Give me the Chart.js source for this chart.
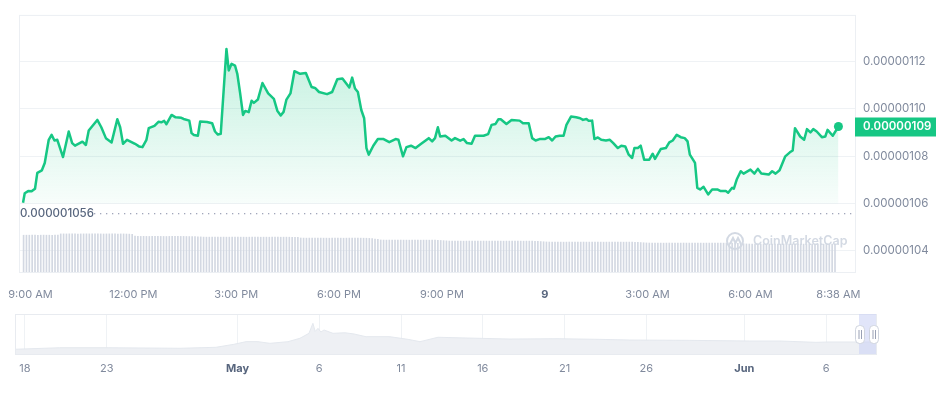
<!DOCTYPE html>
<html lang="en">
<head>
<meta charset="utf-8">
<title>Price chart</title>
<script src="https://cdn.jsdelivr.net/npm/chart.js"></script>
<style>
  body { margin: 0; background: #fff; }
  #main { position: absolute; left: 0; top: 0; }
  #nav { position: absolute; left: 0; top: 300px; }
</style>
</head>
<body>
<canvas id="main" width="942" height="300"></canvas>
<canvas id="nav" width="942" height="95"></canvas>

<script>
// prices are in units of 1e-6 USD, times in minutes from midnight of the first day
var priceTimes = [
  527,530,536,542,548,552,560,565,572,577,
  582,587,597,607,613,618,631,637,642,657,
  664,672,682,692,697,702,709,723,730,736,
  743,747,757,764,769,774,778,787,794,804,
  808,818,822,826,833,837,849,858,863,868,
  873,883,887,892,898,902,907,912,916,922,
  927,931,938,946,956,966,972,978,983,988,
  995,1002,1012,1022,1032,1038,1045,1059,1068,1077,
  1086,1098,1103,1108,1113,1119,1124,1128,1132,1140,
  1148,1158,1168,1179,1184,1192,1198,1206,1214,1222,
  1237,1243,1248,1253,1257,1266,1277,1283,1292,1298,
  1304,1312,1318,1333,1341,1347,1354,1359,1363,1373,
  1382,1396,1402,1412,1418,1424,1431,1440,1447,1453,
  1459,1466,1473,1478,1486,1495,1502,1507,1513,1517,
  1523,1527,1533,1539,1547,1554,1560,1568,1574,1581,
  1587,1593,1597,1603,1608,1614,1623,1629,1633,1643,
  1652,1658,1664,1671,1678,1685,1690,1694,1703,1707,
  1712,1718,1726,1733,1742,1748,1757,1761,1768,1771,
  1776,1783,1788,1800,1807,1813,1819,1832,1838,1844,
  1851,1861,1869,1874,1878,1887,1894,1899,1905,1910,
  1916,1925,1931,1935,1944,1954
];
var priceValues = [
  1.0603,1.0643,1.0652,1.0651,1.0662,1.0729,1.0740,1.0771,1.0869,1.0890,
  1.0866,1.0869,1.0796,1.0904,1.0855,1.0844,1.0861,1.0847,1.0908,1.0953,
  1.0922,1.0876,1.0858,1.0956,1.0922,1.0852,1.0869,1.0852,1.0841,1.0838,
  1.0869,1.0918,1.0928,1.0945,1.0943,1.0949,1.0935,1.0974,1.0964,1.0962,
  1.0957,1.0950,1.0897,1.0889,1.0886,1.0946,1.0944,1.0939,1.0904,1.0891,
  1.0894,1.1253,1.1162,1.1190,1.1183,1.1148,1.1065,1.0974,1.0991,1.0986,
  1.1034,1.1025,1.1039,1.1109,1.1065,1.1042,1.0992,1.0972,1.0987,1.1039,
  1.1065,1.1159,1.1148,1.1151,1.1092,1.1088,1.1071,1.1062,1.1071,1.1125,
  1.1128,1.1090,1.1132,1.1086,1.1071,1.0995,1.0960,1.0834,1.0806,1.0844,
  1.0872,1.0872,1.0859,1.0872,1.0869,1.0799,1.0838,1.0844,1.0834,1.0849,
  1.0876,1.0862,1.0876,1.0922,1.0883,1.0886,1.0866,1.0876,1.0865,1.0872,
  1.0855,1.0852,1.0886,1.0886,1.0893,1.0932,1.0936,1.0956,1.0956,1.0936,
  1.0953,1.0950,1.0939,1.0939,1.0876,1.0866,1.0872,1.0872,1.0880,1.0866,
  1.0883,1.0886,1.0886,1.0932,1.0967,1.0964,1.0960,1.0953,1.0957,1.0949,
  1.0950,1.0872,1.0879,1.0869,1.0866,1.0869,1.0855,1.0834,1.0844,1.0841,
  1.0806,1.0792,1.0834,1.0834,1.0844,1.0785,1.0785,1.0810,1.0788,1.0830,
  1.0834,1.0858,1.0866,1.0890,1.0880,1.0876,1.0862,1.0806,1.0771,1.0666,
  1.0659,1.0670,1.0638,1.0659,1.0659,1.0652,1.0652,1.0645,1.0666,1.0662,
  1.0701,1.0736,1.0726,1.0743,1.0726,1.0746,1.0726,1.0722,1.0736,1.0726,
  1.0740,1.0799,1.0816,1.0824,1.0918,1.0883,1.0869,1.0914,1.0900,1.0914,
  1.0904,1.0880,1.0883,1.0911,1.0886,1.0925
];
var openPrice = 1.056;

// volume bars, one every 5 minutes from volStart (millions USD)
var volStart = 528;
var volStep = 5;
var volumeValues = [
  7.44,7.45,7.45,7.46,7.45,7.44,7.45,7.46,7.45,7.45,7.44,7.45,7.46,
  7.70,7.71,7.70,7.72,7.71,7.70,7.69,7.70,7.71,7.72,7.71,7.70,7.70,
  7.71,7.70,7.69,7.70,7.71,7.72,7.70,7.69,7.70,7.70,7.68,7.66,7.62,
  7.24,7.22,7.20,7.21,7.20,7.19,7.20,7.21,7.20,7.20,7.19,7.18,
  7.20,7.21,7.20,7.19,7.20,7.20,7.18,7.17,7.16,7.14,7.12,7.10,
  7.06,7.05,7.05,7.06,7.05,7.04,7.05,7.06,7.05,7.05,7.04,7.05,
  7.06,7.05,7.05,7.04,7.05,7.05,7.06,7.05,7.04,7.05,7.05,7.04,
  7.05,7.06,7.05,7.04,7.05,7.05,7.04,7.03,7.02,7.01,
  6.88,6.86,6.85,6.86,6.85,6.84,6.85,6.86,6.85,6.85,6.84,6.85,6.86,6.85,
  6.85,6.84,6.85,6.86,6.85,6.84,6.85,6.85,6.84,6.83,6.80,6.75,6.68,6.60,
  6.48,6.46,6.45,6.46,6.45,6.44,6.45,6.46,6.45,6.45,6.44,6.45,
  6.46,6.45,6.44,6.45,6.45,6.44,6.45,6.44,6.42,6.38,6.34,6.30,
  6.26,6.25,6.25,6.26,6.25,6.24,6.25,6.26,6.25,6.25,6.24,6.25,
  6.26,6.25,6.25,6.24,6.25,6.26,6.25,6.24,6.25,6.25,6.24,6.25,
  6.26,6.25,6.24,6.25,6.25,6.24,6.22,6.20,6.16,6.12,6.08,
  6.06,6.05,6.05,6.06,6.05,6.04,6.05,6.06,6.05,6.05,6.04,6.05,
  6.06,6.05,6.05,6.04,6.05,6.06,6.05,6.04,6.05,6.05,6.04,6.05,
  6.06,6.05,6.04,6.05,6.05,6.04,6.02,6.00,5.96,5.92,5.88,
  5.86,5.85,5.85,5.86,5.85,5.84,5.85,5.86,5.85,5.85,5.84,5.85,
  5.86,5.85,5.85,5.84,5.85,5.86,5.85,5.84,5.85,5.85,5.84,5.85,
  5.86,5.85,5.84,5.85,5.85,5.84,5.82,5.80,5.76,5.72,5.68,
  5.66,5.65,5.65,5.66,5.65,5.64,5.65,5.66,5.65,5.65,5.64,5.65,
  5.66,5.65,5.65,5.64,5.65,5.66,5.65,5.64,5.65,5.65,5.64,5.65,
  5.66,5.65,5.64,5.65,5.65,5.64,5.65
];

var timeTicks = [540, 720, 900, 1080, 1260, 1440, 1620, 1800, 1954];
var timeLabels = ['9:00 AM', '12:00 PM', '3:00 PM', '6:00 PM', '9:00 PM', '9', '3:00 AM', '6:00 AM', '8:38 AM'];
var priceTicks = [1.04, 1.06, 1.08, 1.10, 1.12];

// overview strip: days since 18 Apr
var navDays = [-0.61, 2.14, 5.08, 9.48, 11.68, 12.78, 13.52, 14.25, 14.98, 16.09,
  16.82, 17.37, 17.61, 17.75, 17.92, 18.1, 18.29, 18.84, 19.57, 20.12,
  20.86, 22.32, 23.43, 24.16, 25.26, 27.09, 29.66, 32.6, 35.17, 37.0,
  40.67, 44.34, 46.18, 48.38, 49.11, 50.95, 52.05];
var navPrices = [0.43, 0.57, 0.57, 0.52, 0.61, 0.88, 1.12, 1.12, 0.97, 1.12,
  1.43, 1.88, 2.79, 2.05, 2.33, 2.0, 2.18, 1.88, 1.93, 1.82,
  1.57, 1.57, 1.33, 1.12, 1.52, 1.45, 1.36, 1.39, 1.33, 1.27,
  1.24, 1.18, 1.18, 1.06, 1.09, 1.09, 1.09];
var navTicks = [0, 5, 13, 18, 23, 28, 33, 38, 44, 49];
var navLabels = ['18', '23', 'May', '6', '11', '16', '21', '26', 'Jun', '6'];

var green = '#16c784';
var greyText = '#808a9d';
var darkText = '#58667e';
var gridColor = '#eff2f5';

Chart.defaults.font.family = 'Inter, "Noto Sans", sans-serif';
Chart.defaults.font.size = 12;

var lineData = priceTimes.map(function (t, i) { return { x: t, y: priceValues[i] }; });
var volData = volumeValues.map(function (v, i) { return { x: volStart + i * volStep, y: v }; });
var lastIndex = priceValues.length - 1;

var mainDecor = {
  id: 'mainDecor',
  beforeDatasetsDraw: function (chart) {
    var c = chart.ctx, a = chart.chartArea;
    c.save();
    c.strokeStyle = '#eceff3';
    c.lineWidth = 1;
    c.strokeRect(a.left + 0.5, a.top + 0.5, a.right - a.left, a.bottom - a.top);
    c.restore();
  },
  afterDatasetsDraw: function (chart) {
    var c = chart.ctx, a = chart.chartArea, y = chart.scales.y;
    c.save();
    // open price reference
    var ry = Math.round(y.getPixelForValue(openPrice));
    c.fillStyle = '#a1a7bb';
    for (var x = 94; x < a.right - 2; x += 6) {
      c.fillRect(x, ry, 1.3, 1.3);
    }
    c.fillStyle = darkText;
    c.font = '500 11.5px Inter, sans-serif';
    c.textBaseline = 'middle';
    c.fillText((openPrice * 1e-6).toFixed(9), 20, ry + 1);

    // watermark
    c.strokeStyle = '#d3d9e3';
    c.lineWidth = 2;
    c.beginPath();
    c.arc(735, 241, 8, 0, Math.PI * 2);
    c.stroke();
    c.beginPath();
    c.moveTo(730, 244); c.lineTo(733, 238); c.lineTo(735.5, 243); c.lineTo(738, 238); c.lineTo(741, 244);
    c.stroke();
    c.fillStyle = '#d3d9e3';
    c.font = '600 12.5px Inter, sans-serif';
    c.fillText('CoinMarketCap', 753, 241);

    // current price badge
    var last = priceValues[lastIndex];
    var by = y.getPixelForValue(last);
    c.fillStyle = green;
    c.fillRect(a.right, Math.round(by) - 9.5, 81, 19);
    c.fillStyle = '#fff';
    c.font = '600 11.5px Inter, sans-serif';
    c.fillText((last * 1e-6).toFixed(8), a.right + 8, by + 0.5);
    c.restore();
  }
};

new Chart(document.getElementById('main'), {
  type: 'line',
  data: {
    datasets: [{
      type: 'line',
      data: lineData,
      yAxisID: 'y',
      order: 1,
      borderColor: green,
      borderWidth: 2.5,
      borderJoinStyle: 'round',
      tension: 0,
      pointRadius: function (ctx) { return ctx.dataIndex === lastIndex ? 4.5 : 0; },
      pointBackgroundColor: green,
      pointBorderWidth: 0,
      fill: { value: 1.06 },
      backgroundColor: function (ctx) {
        var chart = ctx.chart;
        if (!chart.chartArea) return 'rgba(22,199,132,0.1)';
        var bottom = chart.scales.y.getPixelForValue(1.06);
        var g = chart.ctx.createLinearGradient(0, chart.chartArea.top + 30, 0, bottom);
        g.addColorStop(0, 'rgba(22,199,132,0.26)');
        g.addColorStop(1, 'rgba(22,199,132,0.03)');
        return g;
      }
    }, {
      type: 'bar',
      data: volData,
      yAxisID: 'yv',
      order: 2,
      backgroundColor: '#d3d8e2',
      barThickness: 1,
      grouped: false
    }]
  },
  options: {
    responsive: false,
    animation: false,
    events: [],
    layout: { padding: { left: 15, top: 14, right: 0, bottom: 0 } },
    plugins: { legend: { display: false }, tooltip: { enabled: false } },
    scales: {
      x: {
        type: 'linear',
        min: 520,
        max: 1983,
        offset: false,
        afterBuildTicks: function (s) { s.ticks = timeTicks.map(function (v) { return { value: v }; }); },
        afterFit: function (s) { s.height = 28; },
        grid: { display: false },
        border: { display: false },
        ticks: {
          autoSkip: false,
          maxRotation: 0,
          padding: 8,
          callback: function (v, i) { return timeLabels[i]; },
          color: function (ctx) { return timeLabels[ctx.index] === '9' ? darkText : greyText; },
          font: function (ctx) { return timeLabels[ctx.index] === '9' ? { size: 11, weight: 'bold' } : { size: 11, weight: 'normal' }; }
        }
      },
      y: {
        position: 'right',
        min: 1.031,
        max: 1.1397,
        afterBuildTicks: function (s) { s.ticks = priceTicks.map(function (v) { return { value: v }; }); },
        afterFit: function (s) { s.width = 87; },
        grid: { color: gridColor, drawTicks: false },
        border: { display: false },
        ticks: {
          padding: 8,
          color: greyText,
          font: { size: 11.5 },
          callback: function (v) { return (v * 1e-6).toFixed(8); }
        }
      },
      yv: {
        display: false,
        min: 0,
        max: 52
      }
    }
  },
  plugins: [mainDecor]
});

var navDecor = {
  id: 'navDecor',
  afterDatasetsDraw: function (chart) {
    var c = chart.ctx, a = chart.chartArea;
    c.save();
    c.strokeStyle = '#e8ebf0';
    c.lineWidth = 1;
    c.strokeRect(a.left + 0.5, a.top + 0.5, a.right - a.left, a.bottom - a.top);
    // selected range
    c.fillStyle = 'rgba(205,212,245,0.6)';
    c.fillRect(859, a.top, a.right - 859, a.bottom - a.top);
    [860, 874].forEach(function (cx) {
      c.fillStyle = '#fff';
      c.strokeStyle = '#cfd4de';
      c.beginPath();
      c.roundRect(cx - 4.5, 25.5, 9, 18, 4);
      c.fill();
      c.stroke();
      c.strokeStyle = '#9aa1b5';
      c.beginPath();
      c.moveTo(cx - 1, 30); c.lineTo(cx - 1, 39);
      c.moveTo(cx + 1.5, 30); c.lineTo(cx + 1.5, 39);
      c.stroke();
    });
    c.restore();
  }
};

new Chart(document.getElementById('nav'), {
  type: 'line',
  data: {
    datasets: [{
      data: navDays.map(function (d, i) { return { x: d, y: navPrices[i] }; }),
      borderColor: '#e4e8ee',
      borderWidth: 1,
      backgroundColor: '#eef0f4',
      fill: 'start',
      pointRadius: 0,
      tension: 0
    }]
  },
  options: {
    responsive: false,
    animation: false,
    events: [],
    layout: { padding: { left: 15, top: 14, right: 66, bottom: 0 } },
    plugins: { legend: { display: false }, tooltip: { enabled: false } },
    scales: {
      x: {
        type: 'linear',
        min: -0.61,
        max: 52.05,
        afterBuildTicks: function (s) { s.ticks = navTicks.map(function (v) { return { value: v }; }); },
        afterFit: function (s) { s.height = 41; },
        grid: { color: gridColor, drawTicks: false },
        border: { display: false },
        ticks: {
          autoSkip: false,
          maxRotation: 0,
          padding: 8,
          callback: function (v, i) { return navLabels[i]; },
          color: function (ctx) { return /[A-Za-z]/.test(navLabels[ctx.index]) ? darkText : greyText; },
          font: function (ctx) { return /[A-Za-z]/.test(navLabels[ctx.index]) ? { size: 11, weight: 'bold' } : { size: 11, weight: 'normal' }; }
        }
      },
      y: {
        display: false,
        min: 0,
        max: 3.633
      }
    }
  },
  plugins: [navDecor]
});
</script>
</body>
</html>
